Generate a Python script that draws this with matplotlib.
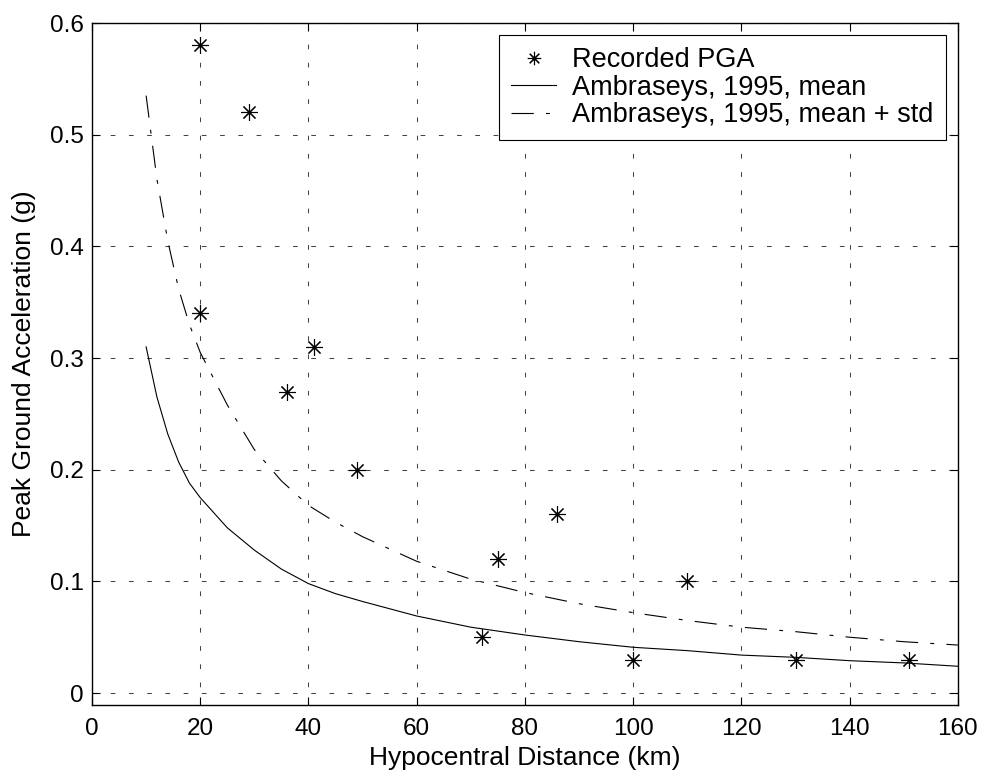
import matplotlib
matplotlib.use("Agg")
import matplotlib.pyplot as plt

plt.rcParams["font.family"] = ["Liberation Sans", "DejaVu Sans"]

# recorded peak ground accelerations
rec_dist = [20, 29, 20, 36, 41, 49, 72, 75, 86, 100, 110, 130, 151]
rec_pga = [0.58, 0.52, 0.34, 0.27, 0.31, 0.20, 0.05, 0.12, 0.16, 0.03, 0.10, 0.03, 0.03]

# Ambraseys 1995 attenuation curves
curve_dist = [10, 12, 14, 16, 18, 20, 25, 30, 35, 40, 45, 50, 60, 70, 80,
              90, 100, 110, 120, 130, 140, 150, 160]
mean_pga = [0.31, 0.265, 0.232, 0.207, 0.188, 0.175, 0.148, 0.128, 0.111, 0.098,
            0.089, 0.082, 0.069, 0.059, 0.052, 0.046, 0.041, 0.038, 0.034, 0.032,
            0.029, 0.027, 0.024]
mean_std_pga = [0.535, 0.46, 0.405, 0.362, 0.33, 0.305, 0.258, 0.218, 0.19, 0.168,
                0.153, 0.14, 0.118, 0.102, 0.09, 0.08, 0.072, 0.065, 0.059, 0.055,
                0.05, 0.046, 0.043]

xticks = [0, 20, 40, 60, 80, 100, 120, 140, 160]
yticks = [0, 0.1, 0.2, 0.3, 0.4, 0.5, 0.6]
ytick_labels = ["0", "0.1", "0.2", "0.3", "0.4", "0.5", "0.6"]

fig = plt.figure(figsize=(9.84, 7.78), dpi=100)
ax = fig.add_axes([0.0935, 0.0938, 0.88, 0.8766])

ax.plot(rec_dist, rec_pga, linestyle="none", marker=(8, 2, 0), markersize=12,
        markeredgewidth=0.8, color="black", label="Recorded PGA")
ax.plot(curve_dist, mean_pga, color="black", linewidth=0.8,
        label="Ambraseys, 1995, mean")
ax.plot(curve_dist, mean_std_pga, color="black", linewidth=0.8,
        linestyle=(0, (20, 11, 3.5, 11)), label="Ambraseys, 1995, mean + std")

ax.set_xlim(0, 160)
ax.set_ylim(-0.0107, 0.6)
ax.set_xticks(xticks)
ax.set_yticks(yticks)
ax.set_yticklabels(ytick_labels)
ax.tick_params(direction="in", top=True, right=True, labelsize=17.5, length=6,
               width=0.8)
ax.tick_params(axis="x", pad=9)
ax.tick_params(axis="y", pad=6)
ax.grid(True, color="#444444", linestyle=(0, (4.5, 13)), linewidth=0.75)
for s in ax.spines.values():
    s.set_linewidth(1.0)

ax.set_xlabel("Hypocentral Distance (km)", fontsize=19, labelpad=5)
ax.set_ylabel("Peak Ground Acceleration (g)", fontsize=19, labelpad=10)

leg = ax.legend(loc="upper right", fontsize=19.5, fancybox=False, framealpha=1,
                edgecolor="black", borderaxespad=0.45, handlelength=1.65,
                handletextpad=0.6, labelspacing=0.05, borderpad=0.45,
                markerscale=0.8)
leg.get_frame().set_linewidth(0.8)

fig.savefig("out.png", dpi=100)
